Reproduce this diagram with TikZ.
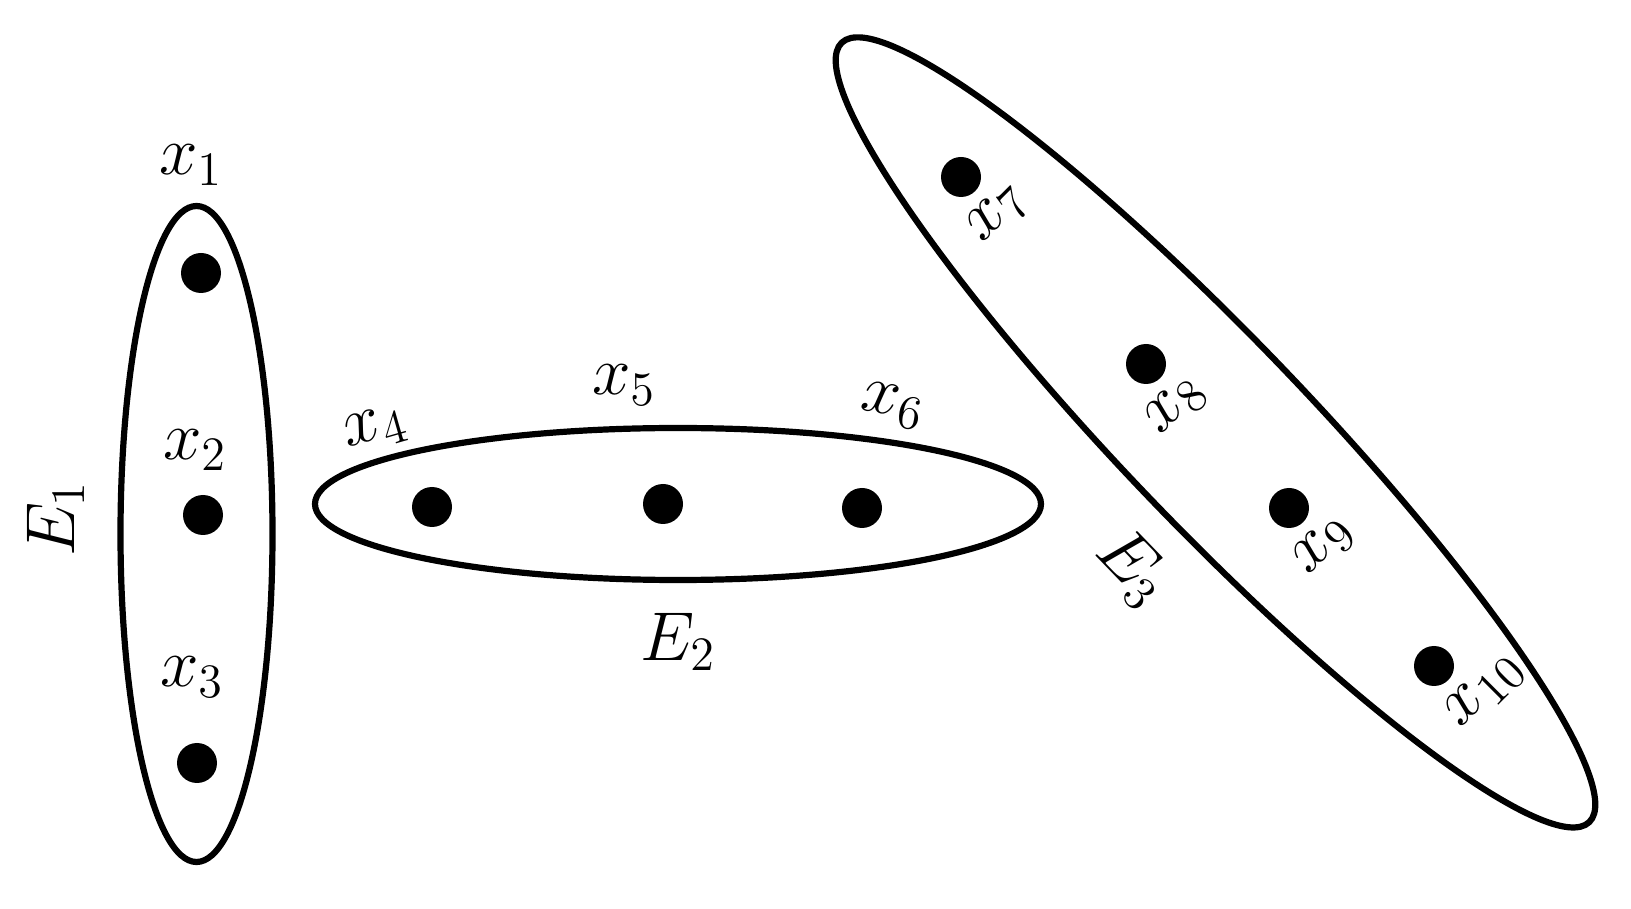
\documentclass[tikz,border=0pt]{standalone}
\begin{document}
\tikzset{
  hedge/.style={line width=1.55pt},
  vtx/.style={circle, fill=black, inner sep=0pt, minimum size=10pt},
  lab/.style={inner sep=0pt, font=\LARGE},
}
\begin{tikzpicture}[x=0.25pt, y=-0.25pt]
\useasboundingbox (0,0) rectangle (1631,909);
% hyperedges
\draw[hedge] (196.5,534) ellipse [x radius=76, y radius=328];
\draw[hedge] (678,504) ellipse [x radius=363, y radius=76];
\begin{scope}[shift={(1215.5,432.4)}, rotate=-46.2]
  \draw[hedge] (0,0) ellipse [x radius=540, y radius=93];
\end{scope}
% vertices
\node[vtx] (p1) at (201,273) {};
\node[vtx] (p2) at (203,515) {};
\node[vtx] (p3) at (197,763) {};
\node[vtx] (p4) at (432,507) {};
\node[vtx] (p5) at (663,504) {};
\node[vtx] (p6) at (862,508) {};
\node[vtx] (p7) at (961,177) {};
\node[vtx] (p8) at (1146,364) {};
\node[vtx] (p9) at (1289,508) {};
\node[vtx] (p10) at (1434,666) {};
% vertex labels
\node[lab] (l1) at (191,165) {$x_1$};
\node[lab] (l2) at (195,450) {$x_2$};
\node[lab] (l3) at (192,677) {$x_3$};
\node[lab, rotate=16] (l4) at (376,429) {$x_4$};
\node[lab] (l5) at (624,385) {$x_5$};
\node[lab, rotate=-10] (l6) at (893,406) {$x_6$};
\node[lab, rotate=45] (l7) at (998,214) {$x_7$};
\node[lab, rotate=45] (l8) at (1176,406) {$x_8$};
\node[lab, rotate=45] (l9) at (1324,546) {$x_9$};
\node[lab, rotate=45] (l10) at (1485,691) {$x_{10}$};
% hyperedge labels
\node[lab, rotate=90] (e1) at (56,519) {$E_1$};
\node[lab] (e2) at (678,642) {$E_2$};
\node[lab, rotate=-46] (e3) at (1133,568) {$E_3$};
\end{tikzpicture}
\end{document}
